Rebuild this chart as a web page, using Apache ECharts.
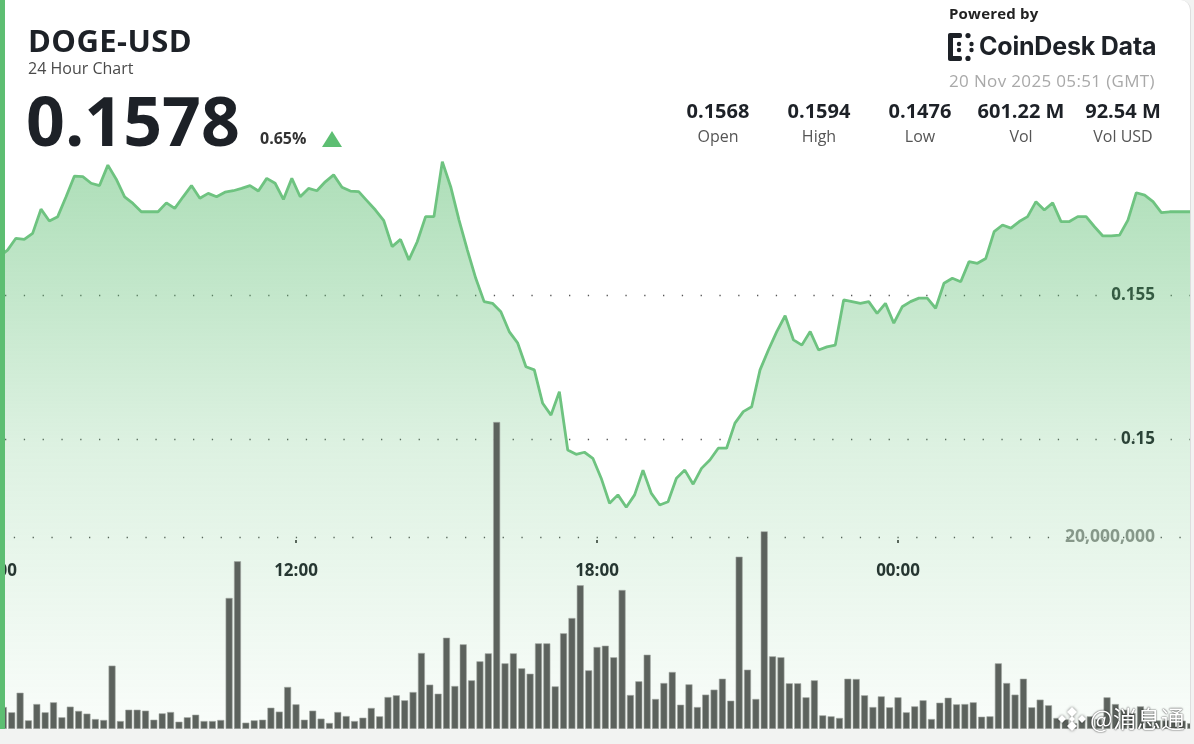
<!DOCTYPE html>
<html><head><meta charset="utf-8">
<script src="https://cdn.jsdelivr.net/npm/echarts@6/dist/echarts.min.js"></script>
<style>
html,body{margin:0;padding:0;width:1194px;height:744px;overflow:hidden;background:#f2f3f2;font-family:"Open Sans","Noto Sans",sans-serif;}
#card{position:absolute;left:0;top:0;width:1185px;height:729px;background:#fff;border-left:5px solid #5dbe72;border-right:1px solid #dedede;border-top-right-radius:10px;overflow:hidden;}
#chart{position:absolute;left:-5px;top:0;width:1194px;height:744px;}
.t{position:absolute;white-space:nowrap;line-height:1;z-index:5;}
.col{position:absolute;width:120px;text-align:center;white-space:nowrap;line-height:1;z-index:5;}
.v{font-size:20px;font-weight:700;color:#1d2127;}
.l{font-size:16px;color:#555;}
</style></head>
<body>
<div id="card"><div id="chart"></div></div>
<div id="overlay"></div>
<script>
// ---- header data ----
const symbol = 'DOGE-USD';
const subtitle = '24 Hour Chart';
const lastPrice = '0.1578';
const changePct = '0.65%';
const statLabels = ['Open','High','Low','Vol','Vol USD'];
const statValues = ['0.1568','0.1594','0.1476','601.22 M','92.54 M'];
const timestamp = '20 Nov 2025 05:51 (GMT)';
const tickLabels = ['06:00','12:00','18:00','00:00'];

// ---- series data ----
const stepHours = 1/6;                 // 10-minute samples
const priceStartHour = 6 + 5/60;       // 06:05
const volumeStartHour = 6 + 10/60;     // 06:10
const priceValues = [
0.15633,0.15656,0.15697,0.15693,0.15714,0.15798,0.15757,0.15772,0.15841,0.15913,
0.15911,0.15888,0.15880,0.15951,0.15902,0.15841,0.15818,0.15789,0.15789,0.15789,
0.15820,0.15801,0.15841,0.15880,0.15836,0.15853,0.15841,0.15857,0.15862,0.15870,
0.15880,0.15861,0.15905,0.15888,0.15832,0.15905,0.15841,0.15870,0.15862,0.15893,
0.15917,0.15874,0.15861,0.15859,0.15827,0.15795,0.15758,0.15668,0.15693,0.15622,
0.15685,0.15772,0.15772,0.15963,0.15876,0.15760,0.15656,0.15558,0.15477,0.15471,
0.15442,0.15373,0.15334,0.15251,0.15240,0.15124,0.15083,0.15164,0.14962,0.14947,
0.14954,0.14933,0.14864,0.14777,0.14806,0.14763,0.14806,0.14892,0.14811,0.14771,
0.14782,0.14864,0.14892,0.14843,0.14898,0.14927,0.14968,0.14968,0.15055,0.15095,
0.15112,0.15240,0.15309,0.15373,0.15428,0.15344,0.15326,0.15373,0.15309,0.15320,
0.15326,0.15483,0.15477,0.15471,0.15477,0.15436,0.15471,0.15402,0.15459,0.15477,
0.15489,0.15489,0.15454,0.15541,0.15558,0.15546,0.15616,0.15610,0.15627,0.15720,
0.15743,0.15732,0.15755,0.15772,0.15824,0.15795,0.15820,0.15755,0.15755,0.15772,
0.15772,0.15737,0.15705,0.15705,0.15708,0.15760,0.15855,0.15847,0.15824,0.15786,
0.15789,0.15789,0.15789,0.15789];
// volume in millions
const volumeValues = [
2.29,1.74,3.78,0.90,2.60,1.74,2.78,1.22,2.33,1.88,
1.60,1.04,0.94,6.60,0.83,2.01,2.01,1.91,0.97,1.63,
1.77,0.76,1.22,1.49,0.83,0.83,0.94,13.65,17.47,0.66,
0.90,0.97,2.22,1.81,4.38,2.57,0.97,1.91,1.08,0.63,
1.77,1.35,0.83,1.18,2.19,1.32,3.33,3.51,2.99,3.85,
7.92,4.62,3.68,9.51,4.48,8.82,5.07,7.05,7.88,31.98,
6.84,7.88,6.32,5.76,8.92,8.92,4.44,9.97,11.56,14.97,
6.11,8.54,8.68,7.47,14.48,3.54,4.97,7.74,3.13,4.79,
5.94,2.53,4.65,2.29,3.58,4.10,5.24,2.95,17.95,6.18,
3.13,20.59,7.57,7.47,4.76,4.76,3.30,5.07,1.42,1.32,
1.15,5.24,5.21,3.51,2.29,3.40,2.26,3.30,1.74,2.36,
2.99,1.04,2.74,3.26,2.57,2.60,2.78,1.28,1.32,6.84,
4.79,3.58,5.24,2.26,3.06,2.47,1.15,1.00,0.60,1.00,
1.32,1.04,3.30,2.60,2.00,1.67,2.36,0.97,0.90,0.90,
0.87,0.87,0.60];

// ---- header (HTML text) ----
const ov = document.getElementById('overlay');
function add(html){ ov.insertAdjacentHTML('beforeend', html); }
add(`<div class="t" style="left:28px;top:25px;font-size:31px;font-weight:700;color:#1d2127;letter-spacing:0.4px">${symbol}</div>`);
add(`<div class="t" style="left:28px;top:60px;font-size:16px;color:#4a4a4a">${subtitle}</div>`);
add(`<div class="t" style="left:26px;top:86px;font-size:68px;font-weight:700;color:#1d2127">${lastPrice}</div>`);
add(`<div class="t" style="left:260px;top:130px;font-size:16px;font-weight:700;color:#333">${changePct}</div>`);
add(`<div style="position:absolute;left:322px;top:131px;width:0;height:0;border-left:10px solid transparent;border-right:10px solid transparent;border-bottom:16px solid #5dbe72;z-index:5"></div>`);
add(`<div class="t" style="left:949px;top:6px;font-size:15px;font-weight:700;color:#222;letter-spacing:0.2px">Powered by</div>`);
add(`<svg style="position:absolute;left:948px;top:33px;z-index:5" width="27" height="28" viewBox="0 0 27 28"><g fill="#1d2127"><rect x="0" y="1" width="5" height="26" rx="2"/><rect x="0" y="0" width="14" height="5" rx="2"/><rect x="0" y="23" width="14" height="5" rx="2"/><circle cx="20" cy="2.6" r="2.6"/><circle cx="20" cy="25.4" r="2.6"/><circle cx="11" cy="11" r="2.2"/><circle cx="11" cy="17" r="2.2"/><circle cx="23.5" cy="11" r="2.2"/><circle cx="23.5" cy="17" r="2.2"/></g></svg>`);
add(`<div class="t" style="left:979px;top:34px;font-family:Inter,'Open Sans',sans-serif;font-size:25px;font-weight:700;color:#1d2127;letter-spacing:-0.2px">CoinDesk Data</div>`);
add(`<div class="t" style="left:949px;top:72px;font-size:17px;color:#a9a9a9;letter-spacing:0.35px">${timestamp}</div>`);
const colCenters = [718, 819, 920, 1021, 1123];
statLabels.forEach((lab, i) => {
  add(`<div class="col v" style="left:${colCenters[i]-60}px;top:101px">${statValues[i]}</div>`);
  add(`<div class="col l" style="left:${colCenters[i]-60}px;top:128px">${lab}</div>`);
});
// watermark
add(`<svg style="position:absolute;left:1058px;top:705px;z-index:6;filter:drop-shadow(0 0 1.5px rgba(0,0,0,0.55))" width="28" height="28" viewBox="0 0 28 28"><g fill="#fff"><path d="M14 2 L19 7 L14 12 L9 7 Z"/><path d="M14 16 L19 21 L14 26 L9 21 Z"/><path d="M4 10 L8 14 L4 18 L0 14 Z"/><path d="M24 10 L28 14 L24 18 L20 14 Z"/><path d="M14 11 L17 14 L14 17 L11 14 Z"/></g></svg>`);
add(`<div class="t" style="left:1090px;top:706px;font-family:'Noto Sans CJK SC',sans-serif;font-size:24px;color:#fff;text-shadow:0 0 2px rgba(0,0,0,0.65),0 0 1px rgba(0,0,0,0.6)">@消息通</div>`);

// ---- chart ----
const chart = echarts.init(document.getElementById('chart'));
const priceData = priceValues.map((v, i) => [priceStartHour + i * stepHours, v]);
const volumeData = volumeValues.map((v, i) => [volumeStartHour + i * stepHours, v]);
function hourLabel(v){
  if (v >= 30) return '';
  const idx = Math.round((v - 6) / 6);
  return tickLabels[idx] || '';
}
const dotted = {color:'#555', width:1.3, type:[1.3, 17.5]};
chart.setOption({
  animation:false,
  grid:[
    {left:-5, right:-5, top:151, height:576, outerBoundsMode:'none', containLabel:false},
    {left:-5, right:-5, top:345, height:384, outerBoundsMode:'none', containLabel:false},
    {left:5, right:4, top:295, height:144, outerBoundsMode:'none', containLabel:false}
  ],
  xAxis:[
    {gridIndex:0, type:'value', min:6, max:30, show:false},
    {gridIndex:1, type:'value', min:6, max:30, interval:6, position:'bottom', offset:-189,
      axisLine:{show:false},
      axisTick:{show:true, length:3, lineStyle:{color:'#222', width:1.5}},
      axisLabel:{margin:23, fontSize:17, fontWeight:'bold', color:'#1d2127', fontFamily:'Open Sans', formatter:hourLabel},
      splitLine:{show:false}},
    {gridIndex:2, type:'value', min:0, max:1, show:false}
  ],
  yAxis:[
    {gridIndex:0, type:'value', min:0.14, max:0.16, show:false},
    {gridIndex:1, type:'value', min:0, max:40, interval:20, position:'right',
      axisLine:{show:false}, axisTick:{show:false},
      axisLabel:{inside:true, margin:44, fontSize:17.5, fontWeight:'bold', color:'#8e918e', fontFamily:'Open Sans',
        formatter:v => v === 20 ? (v*1e6).toLocaleString('en-US') : ''},
      splitLine:{show:true, showMinLine:false, showMaxLine:false, lineStyle:dotted}},
    {gridIndex:2, type:'value', min:0.15, max:0.155, interval:0.005, position:'right',
      axisLine:{show:false}, axisTick:{show:false},
      axisLabel:{inside:true, margin:35, fontSize:17, fontWeight:'bold', color:'#1d2127', fontFamily:'Open Sans',
        formatter:v => String(+(+v).toFixed(3))},
      splitLine:{show:true, showMinLine:true, showMaxLine:true, lineStyle:dotted}}
  ],
  series:[
    {type:'line', xAxisIndex:0, yAxisIndex:0, data:priceData, symbol:'none', z:2,
      lineStyle:{color:'#6ec380', width:2.8},
      areaStyle:{color:new echarts.graphic.LinearGradient(0,0,0,1,[
        {offset:0, color:'rgba(93,190,114,0.72)'},
        {offset:0.5, color:'rgba(93,190,114,0.3)'},
        {offset:1, color:'rgba(93,190,114,0.05)'}])}},
    {type:'bar', xAxisIndex:1, yAxisIndex:1, data:volumeData, barWidth:7, z:3,
      itemStyle:{color:'#5c625d', borderColor:'#a4a9a5', borderWidth:0.6}}
  ]
});
</script>
</body></html>
